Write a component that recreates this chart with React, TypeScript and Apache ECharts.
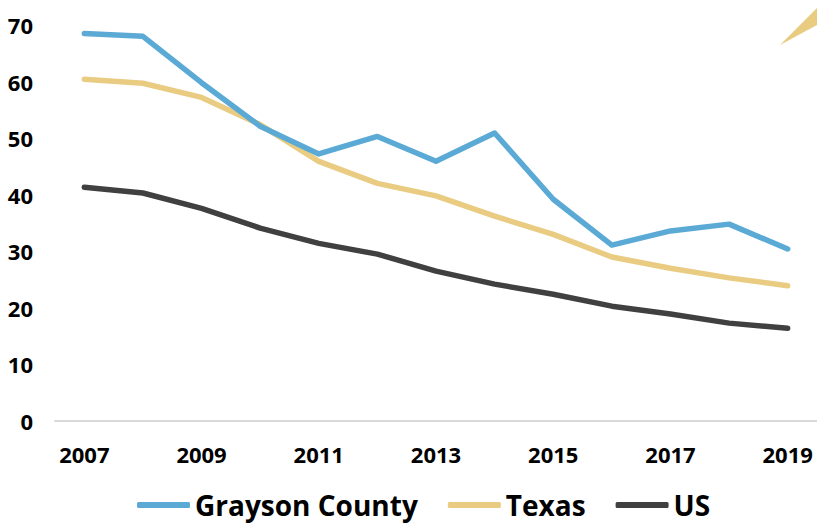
import React, { useEffect, useRef } from "react";
import * as echarts from "echarts";

const years = ["2007", "2008", "2009", "2010", "2011", "2012", "2013", "2014", "2015", "2016", "2017", "2018", "2019"];
const grayson = [68.5, 68.0, 59.8, 52.1, 47.2, 50.3, 45.9, 50.9, 39.2, 31.1, 33.6, 34.8, 30.4];
const texas = [60.4, 59.7, 57.2, 52.4, 45.9, 42.0, 39.8, 36.2, 33.0, 29.0, 27.0, 25.3, 23.9];
const us = [41.3, 40.3, 37.6, 34.1, 31.4, 29.5, 26.5, 24.2, 22.4, 20.3, 18.9, 17.3, 16.4];
const seriesNames = ["Grayson County", "Texas", "US"];
const colors = ["#5BAAD6", "#E9CC82", "#404040"];

export default function App() {
  const ref = useRef<HTMLDivElement>(null);
  useEffect(() => {
    if (!ref.current) return;
    const chart = echarts.init(ref.current, undefined, { renderer: "svg" });
    const data = [grayson, texas, us];
    chart.setOption({
      animation: false,
      backgroundColor: "#ffffff",
      textStyle: { fontFamily: "Open Sans" },
      grid: { left: 55, right: 0, top: 25, bottom: 104, containLabel: false },
      legend: {
        left: 137,
        top: 491,
        padding: 0,
        itemWidth: 53,
        itemHeight: 6,
        itemGap: 30,
        icon: "roundRect",
        textStyle: { fontFamily: "Open Sans", fontWeight: "bold", fontSize: 28, color: "#000" },
        data: seriesNames,
      },
      xAxis: {
        type: "category",
        data: years,
        boundaryGap: true,
        axisLine: { show: true, lineStyle: { color: "#D9D9D9", width: 2 } },
        axisTick: { show: false },
        axisLabel: {
          interval: 1,
          margin: 22,
          fontFamily: "Open Sans",
          fontWeight: "bold",
          fontSize: 22,
          color: "#000",
        },
      },
      yAxis: {
        type: "value",
        min: 0,
        max: 70,
        interval: 10,
        axisLine: { show: false },
        axisTick: { show: false },
        splitLine: { show: false },
        axisLabel: {
          margin: 22,
          fontFamily: "Open Sans",
          fontWeight: "bold",
          fontSize: 22,
          color: "#000",
        },
      },
      series: seriesNames.map((name, i) => ({
        name,
        type: "line",
        data: data[i],
        symbol: "none",
        color: colors[i],
        lineStyle: { width: 5.5, color: colors[i], cap: "round", join: "round" },
        z: 3 - i,
      })),
      graphic: [
        {
          type: "polygon",
          shape: { points: [[780, 45], [817, 8], [817, 25]] },
          style: { fill: "#E9CC82" },
        },
      ],
    });
    return () => chart.dispose();
  }, []);
  return <div ref={ref} style={{ position: "absolute", left: 0, top: 0, width: 817, height: 525 }} />;
}
